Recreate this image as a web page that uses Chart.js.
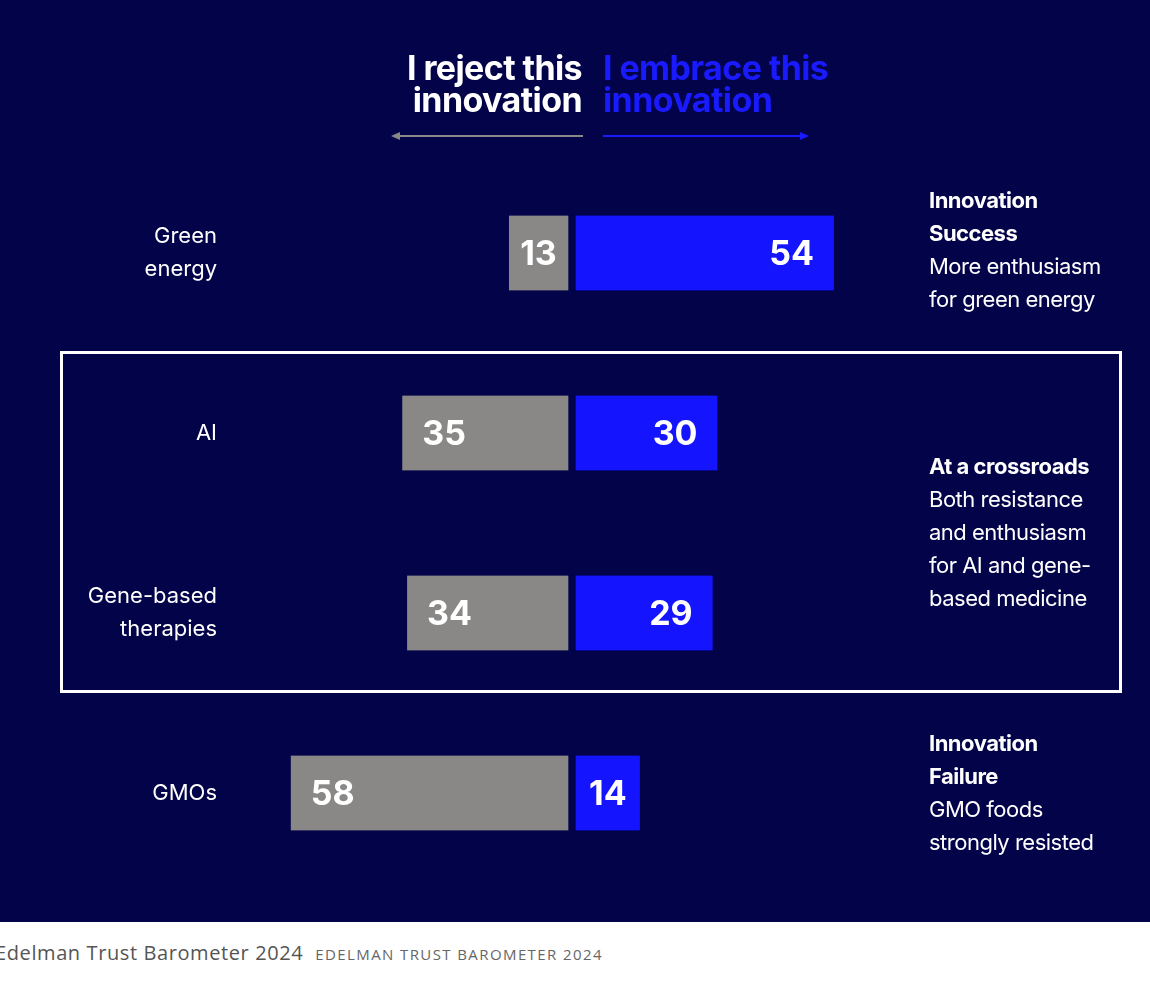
<!DOCTYPE html>
<html><head><meta charset="utf-8">
<script src="https://cdn.jsdelivr.net/npm/chart.js@4"></script>
<style>
  body { margin:0; width:1150px; height:982px; background:#fff; font-family:Inter, "Noto Sans", sans-serif; overflow:hidden; position:relative; }
  #panel { position:absolute; left:0; top:0; width:1150px; height:922px; background:#03034a; }
  #chart { position:absolute; left:0; top:0; }
  .hdr { position:absolute; top:52px; font-weight:700; font-size:34px; line-height:32px; letter-spacing:-0.6px; }
  .note { position:absolute; left:929px; color:#fff; font-size:22px; line-height:33px; letter-spacing:-0.5px; }
  .note b { font-weight:700; }
  #box { position:absolute; left:60px; top:351px; width:1056px; height:336px; border:3px solid #fff; }
  #cap { position:absolute; left:-5px; top:939px; font-family:"Open Sans", sans-serif; color:#555; font-size:20px; letter-spacing:0.6px; }
  #cap span { font-size:15px; letter-spacing:1.4px; margin-left:12px; color:#666; }
</style></head>
<body>
<div id="panel"></div>
<div id="box"></div>
<canvas id="chart" width="1150" height="922"></canvas>
<div class="hdr" style="right:568px;text-align:right;color:#fff">I reject this<br>innovation</div>
<div class="hdr" style="left:603px;color:#1a1aff">I embrace this<br>innovation</div>
<svg style="position:absolute;left:0;top:0" width="1150" height="160">
  <line x1="396" y1="136" x2="583" y2="136" stroke="#8a8886" stroke-width="2"/>
  <polygon points="391,136 400,132 400,140" fill="#8a8886"/>
  <line x1="603" y1="136" x2="803" y2="136" stroke="#1a1aff" stroke-width="2"/>
  <polygon points="809,136 800,132 800,140" fill="#1a1aff"/>
</svg>
<div class="note" style="top:184px"><b>Innovation<br>Success</b><br>More enthusiasm<br>for green energy</div>
<div class="note" style="top:450px"><b>At a crossroads</b><br>Both resistance<br>and enthusiasm<br>for AI and gene-<br>based medicine</div>
<div class="note" style="top:727px"><b>Innovation<br>Failure</b><br>GMO foods<br>strongly resisted</div>
<div id="cap">Edelman Trust Barometer 2024<span>EDELMAN TRUST BAROMETER 2024</span></div>
<script>
// ========== DATA ==========
const categories = [['Green', 'energy'], ['AI'], ['Gene-based', 'therapies'], ['GMOs']];
const rejectVals = [13, 35, 34, 58];
const embraceVals = [54, 30, 29, 14];

const GREY = '#8a8886', BLUE = '#1414ff', BG = '#03034a';

// ========== LABELS PLUGIN ==========
const labelPlugin = {
  id: 'labels',
  afterDatasetsDraw(chart) {
    const ctx = chart.ctx, y = chart.scales.y;
    ctx.save();
    ctx.fillStyle = '#fff';
    ctx.font = '22px Inter, sans-serif';
    ctx.textAlign = 'right';
    ctx.textBaseline = 'middle';
    categories.forEach((lines, i) => {
      const cy = y.getPixelForValue(i);
      lines.forEach((t, k) => ctx.fillText(t, 217, cy + (k - (lines.length - 1) / 2) * 33));
    });
    ctx.font = '700 34px Inter, sans-serif';
    chart.getDatasetMeta(0).data.forEach((bar, i) => {
      const left = bar.x, right = bar.base - 4;
      if (right - left < 90) { ctx.textAlign = 'center'; ctx.fillText(rejectVals[i], (left + right) / 2, bar.y + 2); }
      else { ctx.textAlign = 'left'; ctx.fillText(rejectVals[i], left + 20, bar.y + 2); }
    });
    chart.getDatasetMeta(1).data.forEach((bar, i) => {
      const left = bar.base + 4, right = bar.x;
      if (right - left < 90) { ctx.textAlign = 'center'; ctx.fillText(embraceVals[i], (left + right) / 2, bar.y + 2); }
      else { ctx.textAlign = 'right'; ctx.fillText(embraceVals[i], right - 20, bar.y + 2); }
    });
    ctx.restore();
  }
};

// ========== CHART ==========
new Chart(document.getElementById('chart'), {
  type: 'bar',
  data: {
    labels: categories.map(c => c.join(' ')),
    datasets: [
      { data: rejectVals.map(v => -v), backgroundColor: GREY, borderColor: BG, borderWidth: { left: 0, right: 4, top: 0, bottom: 0 }, borderSkipped: false, barThickness: 75 },
      { data: embraceVals, backgroundColor: BLUE, borderColor: BG, borderWidth: { left: 4, right: 0, top: 0, bottom: 0 }, borderSkipped: false, barThickness: 75 }
    ]
  },
  options: {
    indexAxis: 'y', responsive: false, animation: false,
    layout: { padding: { left: 281, right: 287, top: 163, bottom: 39 } },
    plugins: { legend: { display: false }, tooltip: { enabled: false } },
    scales: {
      x: { stacked: true, min: -60, max: 60, display: false },
      y: { stacked: true, display: false }
    }
  },
  plugins: [labelPlugin]
});
</script>
</body></html>
